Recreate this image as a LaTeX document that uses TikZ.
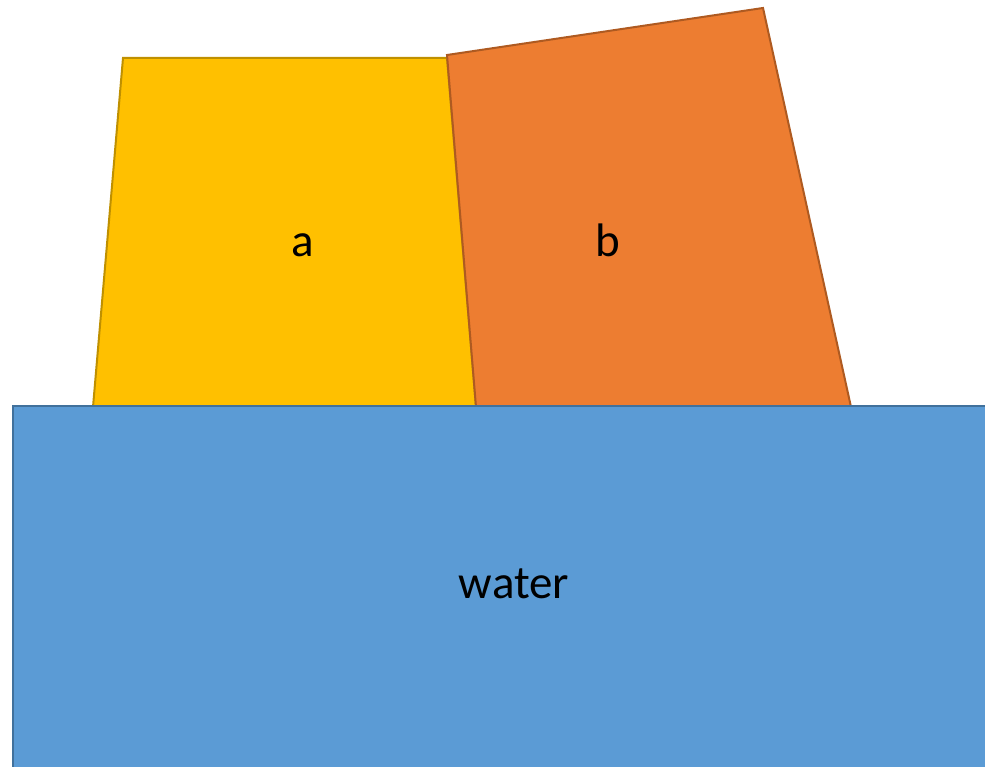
\documentclass[tikz,border=0pt]{standalone}
\usepackage{fontspec}
\setmainfont{Carlito}
\definecolor{ayel}{HTML}{FFC000}
\definecolor{ayelline}{HTML}{BF9000}
\definecolor{borg}{HTML}{ED7D31}
\definecolor{borgline}{HTML}{AE5A21}
\definecolor{wblue}{HTML}{5B9BD5}
\definecolor{wblueline}{HTML}{41719C}
\tikzset{
  lbl/.style={font=\fontsize{47}{56}\selectfont, text=black, inner sep=0pt, anchor=base},
  blk/.style={line width=2pt, line join=miter}
}
\begin{document}
\begin{tikzpicture}[x=1pt,y=1pt]
\useasboundingbox (0,0) rectangle (985,767);
\begin{scope}
\clip (0,0) rectangle (985,767);
% block a
\filldraw[blk, fill=ayel, draw=ayelline] (123,709) -- (447,709) -- (476,360) -- (93,360) -- cycle;
% block b
\filldraw[blk, fill=borg, draw=borgline] (447,712) -- (763,759) -- (851,360) -- (476,360) -- cycle;
% water
\filldraw[blk, fill=wblue, draw=wblueline] (13,-10) rectangle (995,361);
\end{scope}
\node[lbl] (a) at (303,510) {a};
\node[lbl] (b) at (608,510) {b};
\node[lbl] (w) at (514,168) {water};
\end{tikzpicture}
\end{document}
